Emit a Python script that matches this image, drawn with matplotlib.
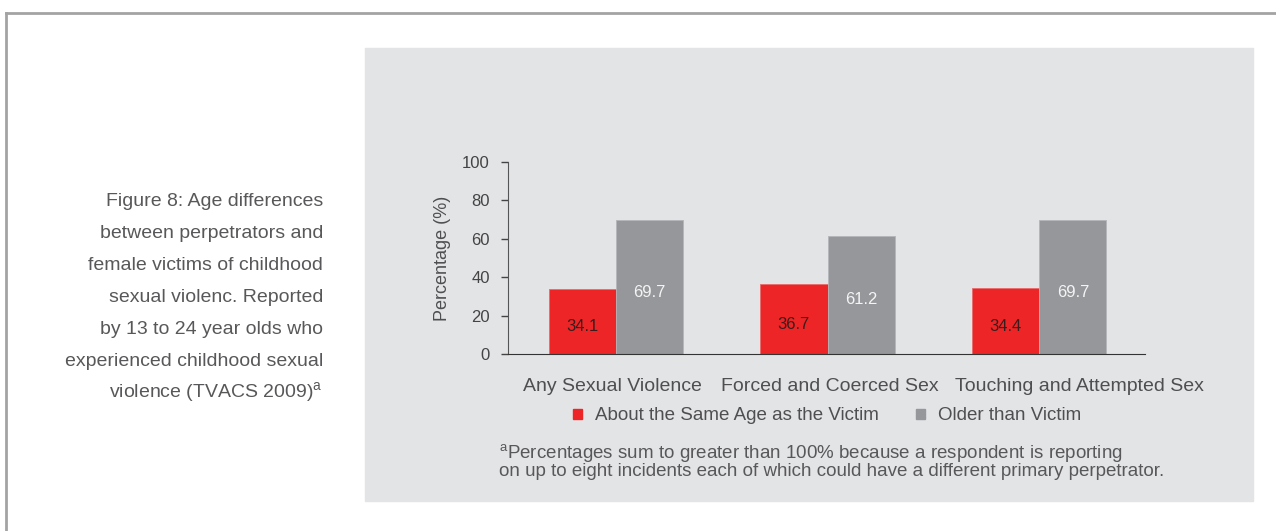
import matplotlib
matplotlib.use("Agg")
import matplotlib.pyplot as plt
import numpy as np
from matplotlib.patches import Rectangle, Patch
from matplotlib.lines import Line2D

plt.rcParams['font.family'] = ['Liberation Sans', 'DejaVu Sans']
plt.rcParams['mathtext.fontset'] = 'custom'
plt.rcParams['mathtext.rm'] = 'Liberation Sans'

# data
categories = ["Any Sexual Violence", "Forced and Coerced Sex", "Touching and Attempted Sex"]
same_age = [34.1, 36.7, 34.4]
older = [69.7, 61.2, 69.7]
series_names = ["About the Same Age as the Victim", "Older than Victim"]
yticks = [0, 20, 40, 60, 80, 100]

RED = "#ee2526"
GREY = "#96979b"
PANEL = "#e3e4e6"
TXT = "#4f4f51"

W, H = 1276, 531
fig = plt.figure(figsize=(W / 100, H / 100), dpi=100)

# outer frame + grey panel
fig.add_artist(Line2D([6 / W, 6 / W], [0, 1 - 13 / H], color="#a3a3a3", lw=2))
fig.add_artist(Line2D([6 / W, 1], [1 - 13 / H, 1 - 13 / H], color="#a3a3a3", lw=2))
fig.add_artist(Rectangle((365 / W, 1 - 501 / H), (1253 - 365) / W, (501 - 48) / H,
                         transform=fig.transFigure, color=PANEL, zorder=0))

# caption on the left
caption = ["Figure 8: Age differences", "between perpetrators and",
           "female victims of childhood", "sexual violenc. Reported",
           "by 13 to 24 year olds who", "experienced childhood sexual",
           r"violence (TVACS 2009)$^\mathrm{a}$"]
for i, line in enumerate(caption):
    fig.text(323 / W, 1 - (202 + i * 31.8) / H, line, ha="right", va="center",
             fontsize=14, color="#58585a")

ax = fig.add_axes([508 / W, 1 - 354 / H, 637 / W, (354 - 162) / H])
ax.set_facecolor("none")

x = np.arange(len(categories))
bw = 0.318
b1 = ax.bar(x - bw / 2, same_age, bw, color=RED, edgecolor="#e86a6b", lw=0.6)
b2 = ax.bar(x + bw / 2, older, bw, color=GREY, edgecolor="#b4b5b8", lw=0.6)

for rect, v in zip(b1, same_age):
    ax.text(rect.get_x() + rect.get_width() / 2, v * 0.42, f"{v}", ha="center", va="center",
            fontsize=12, color="#3a1c1c")
for rect, v in zip(b2, older):
    ax.text(rect.get_x() + rect.get_width() / 2, v * 0.46, f"{v}", ha="center", va="center",
            fontsize=12, color="#f4f4f4")

ax.set_xlim(-0.51, 2.5)
ax.set_ylim(0, 100)
ax.set_yticks(yticks)
ax.tick_params(axis="y", direction="out", length=5, width=1, colors="#444444",
               labelsize=12, labelcolor="#444444", pad=8)
# third label sits to the right of its bars in the original
ax.set_xticks([-0.015, 1.01, 2.19], categories)
ax.tick_params(axis="x", length=0, pad=17, labelsize=14, labelcolor=TXT)
for s in ["top", "right"]:
    ax.spines[s].set_visible(False)
ax.spines["left"].set_color("#555555")
ax.spines["bottom"].set_color("#333333")
ax.set_ylabel("Percentage (%)", fontsize=13, color=TXT, labelpad=8)

handles = [Patch(color=RED), Patch(color=GREY)]
fig.legend(handles, series_names, loc="center", bbox_to_anchor=(827 / W, 1 - 416 / H),
           ncol=2, frameon=False, fontsize=13.5, labelcolor=TXT,
           handlelength=0.45, handleheight=0.45, handletextpad=0.7, columnspacing=2.0)

fig.text(499 / W, 1 - 454 / H,
         r"$^\mathrm{a}$Percentages sum to greater than 100% because a respondent is reporting",
         ha="left", va="center", fontsize=13.5, color="#58585a")
fig.text(499 / W, 1 - 472 / H,
         "on up to eight incidents each of which could have a different primary perpetrator.",
         ha="left", va="center", fontsize=13.5, color="#58585a")

fig.savefig("out.png", dpi=100, facecolor="white")
